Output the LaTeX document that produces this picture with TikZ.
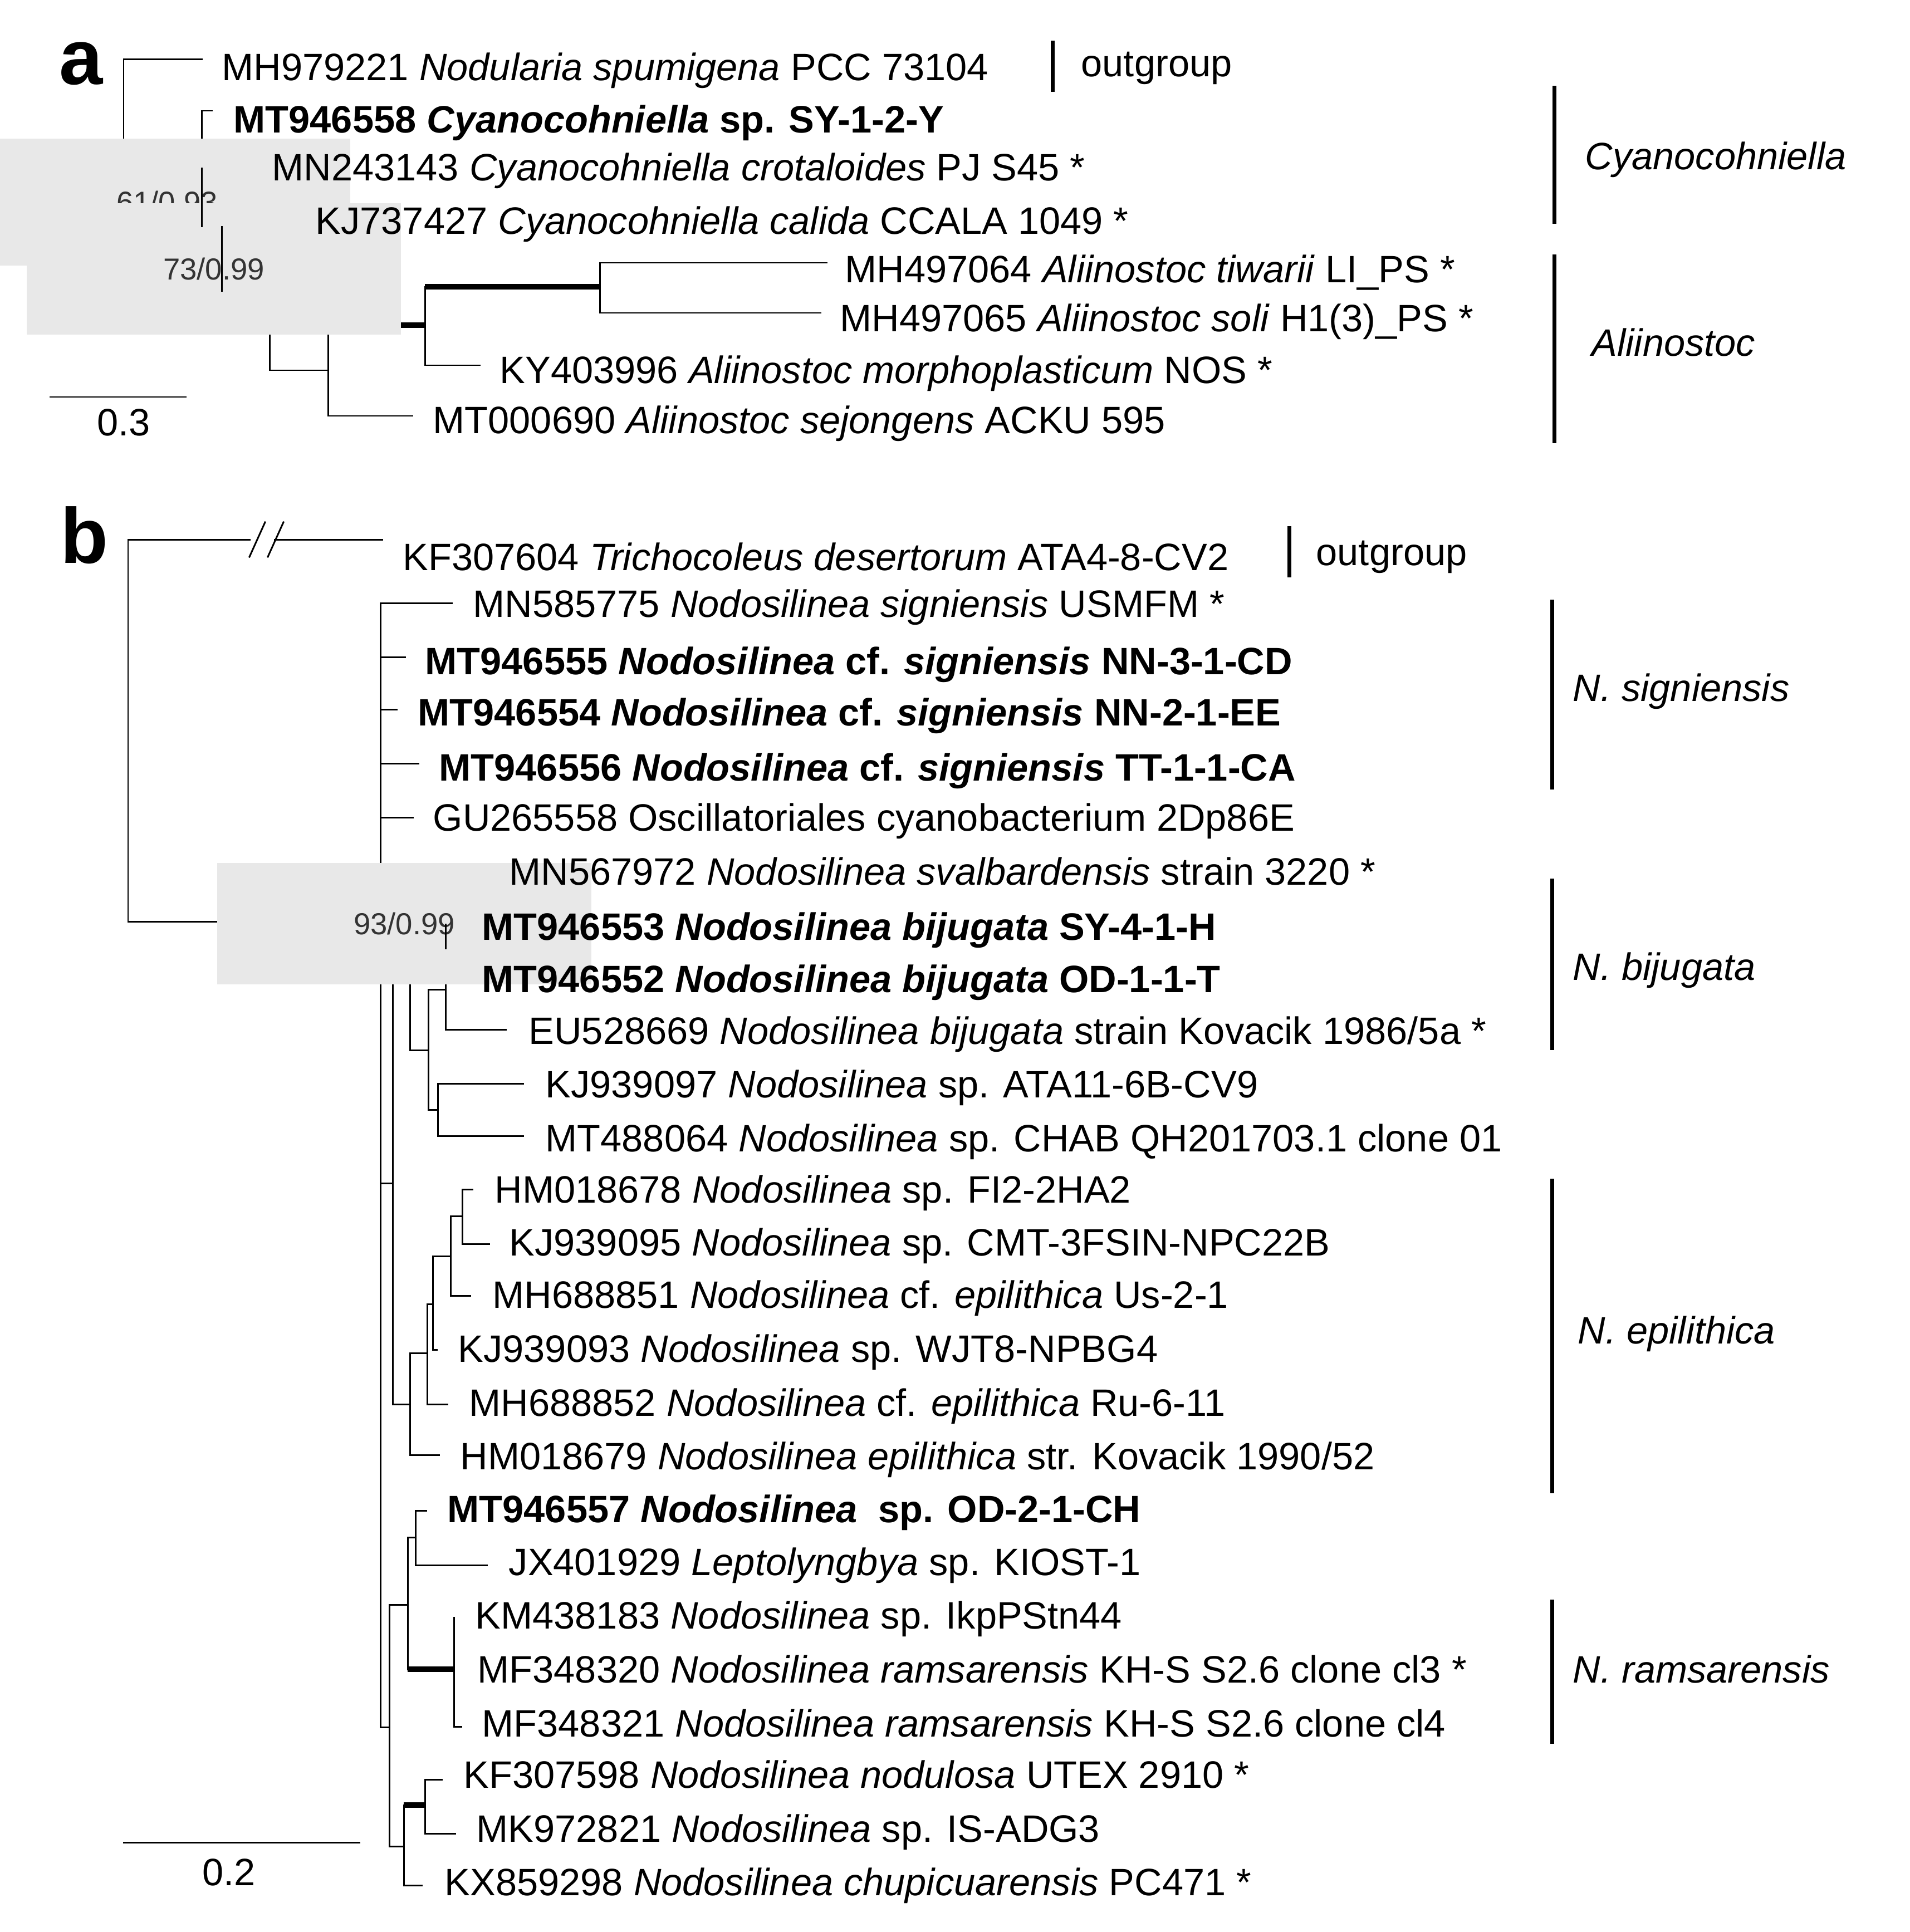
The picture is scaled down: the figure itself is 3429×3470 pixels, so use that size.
\documentclass[tikz,border=0pt]{standalone}
\usepackage{fontspec}
\setmainfont{Liberation Sans}
\begin{document}
\begin{tikzpicture}[x=0.01cm,y=-0.01cm,
  tr/.style={line width=0.85pt,line cap=rect},
  tk/.style={line width=2.6pt},
  bar/.style={line width=2pt},
  lab/.style={font=\fontsize{19.5}{20}\selectfont,inner sep=0pt,anchor=base west},
  sup/.style={font=\fontsize{15.5}{16}\selectfont,text=black!80,fill=black!9,inner sep=0pt,anchor=center},
  pl/.style={font=\fontsize{40}{40}\selectfont\bfseries,inner sep=0pt}]
\useasboundingbox (0,0) rectangle (3429,3470);
\newcommand\lf[3]{\node[lab] at ({#1},{#2+24}) {#3};}
% ---------- panel a
\node[pl] (pa) at (146,114) {a};
\draw[tr] (362,107) -- (222,107) -- (222,302) -- (362,302);
\draw[tr] (362,199) -- (362,407);
\draw[tr] (362,199) -- (380,199);
\draw[tk] (362,407) -- (398,407);
\draw[tr] (398,289) -- (398,523); \draw[tr] (398,289) -- (451,289);
\draw[tk] (398,523) -- (484,523);
\draw[tr] (484,382) -- (484,665); \draw[tr] (484,382) -- (533,382);
\draw[tr] (484,665) -- (589,665);
\draw[tr] (589,584) -- (589,747); \draw[tr] (589,747) -- (740,747);
\draw[tk] (589,584) -- (763,584);
\draw[tr] (763,515) -- (763,656); \draw[tr] (763,656) -- (861,656);
\draw[tk] (763,515) -- (1077,515);
\draw[tr] (1484,472) -- (1077,472) -- (1077,562) -- (1473,562);
\node[sup,minimum width=187,minimum height=65] at (300,363) {61/0.93};
\node[sup,minimum width=191,minimum height=67] at (384,483) {73/0.99};
\draw[tr] (362,302) -- (362,407);
\draw[tr] (398,407) -- (398,523);
\lf{398}{121}{MH979221 \textit{Nodularia spumigena} PCC 73104}
\lf{419}{215}{\bfseries MT946558 \textit{Cyanocohniella} sp. SY-1-2-Y}
\lf{488}{301}{MN243143 \textit{Cyanocohniella crotaloides} PJ S45 *}
\lf{566}{396}{KJ737427 \textit{Cyanocohniella calida} CCALA 1049 *}
\lf{1517}{484}{MH497064 \textit{Aliinostoc tiwarii} LI\_PS *}
\lf{1508}{571}{MH497065 \textit{Aliinostoc soli} H1(3)\_PS *}
\lf{897}{664}{KY403996 \textit{Aliinostoc morphoplasticum} NOS *}
\lf{777}{754}{MT000690 \textit{Aliinostoc sejongens} ACKU 595}
\draw[tr] (90,713) -- (334,713);
\node[lab,anchor=center] at (222,759) {0.3};
\draw[bar] (1890,73) -- (1890,165);
\lf{1941}{114}{outgroup}
\draw[bar] (2791,154) -- (2791,402);
\lf{2846}{281}{\itshape Cyanocohniella}
\draw[bar] (2791,457) -- (2791,796);
\lf{2858}{615}{\itshape Aliinostoc}
% ---------- panel b
\node[pl] (pb) at (151,961) {b};
\draw[tr] (448,969) -- (230,969) -- (230,1655) -- (448,1655);
\draw[tr] (493,969) -- (686,969);
\draw[tr] (493,1655) -- (681,1655);
\foreach \yy in {969,1655}{
  \draw[tr] (448,\yy+31) -- (476,\yy-31);
  \draw[tr] (481,\yy+31) -- (509,\yy-31);}
\lf{723}{1000}{KF307604 \textit{Trichocoleus desertorum} ATA4-8-CV2}
\draw[bar] (2315,945) -- (2315,1037);
\lf{2363}{991}{outgroup}
% main polytomy
\draw[tr] (683,1083) -- (683,3102);
\draw[tr] (683,1083) -- (811,1083);
\draw[tr] (683,1180) -- (727,1180);
\draw[tr] (683,1274) -- (712,1274);
\draw[tr] (683,1371) -- (751,1371);
\draw[tr] (683,1468) -- (741,1468);
% 705 node
\draw[tr] (683,2125) -- (705,2125);
\draw[tr] (705,1723) -- (705,2522);
\draw[tr] (705,1723) -- (736,1723);
\draw[tr] (736,1561) -- (736,1886); \draw[tr] (736,1561) -- (874,1561);
\draw[tr] (736,1886) -- (769,1886);
\draw[tr] (769,1777) -- (769,1993);
\draw[tr] (769,1777) -- (800,1777);
\draw[tr] (800,1703) -- (800,1849); \draw[tr] (800,1849) -- (908,1849);
\draw[tk] (800,1703) -- (823,1703);
\draw[tr] (825,1660) -- (825,1755);
\draw[tr] (825,1660) -- (830,1660); \draw[tr] (825,1755) -- (830,1755);
\draw[tr] (769,1993) -- (786,1993);
\draw[tr] (939,1946) -- (786,1946) -- (786,2040) -- (939,2040);
\draw[tr] (705,2522) -- (736,2522);
\draw[tr] (736,2430) -- (736,2613); \draw[tr] (736,2613) -- (788,2613);
\draw[tr] (736,2430) -- (767,2430);
\draw[tr] (767,2342) -- (767,2522); \draw[tr] (767,2522) -- (803,2522);
\draw[tr] (767,2342) -- (777,2342);
\draw[tr] (777,2256) -- (777,2424); \draw[tr] (777,2424) -- (784,2424);
\draw[tr] (777,2256) -- (809,2256);
\draw[tr] (809,2184) -- (809,2327); \draw[tr] (809,2327) -- (844,2327);
\draw[tr] (809,2184) -- (830,2184);
\draw[tr] (848,2136) -- (830,2136) -- (830,2234) -- (878,2234);
% lower clades
\draw[tr] (683,3102) -- (699,3102);
\draw[tr] (699,2882) -- (699,3316);
\draw[tr] (699,2882) -- (732,2882);
\draw[tr] (732,2761) -- (732,2998);
\draw[tr] (732,2761) -- (746,2761);
\draw[tr] (765,2713) -- (746,2713) -- (746,2811) -- (874,2811);
\draw[tk] (732,2998) -- (815,2998);
\draw[tr] (815,2905) -- (815,3101) -- (828,3101);
\draw[tr] (699,3316) -- (725,3316);
\draw[tr] (725,3242) -- (725,3386) -- (757,3386);
\draw[tk] (725,3242) -- (763,3242);
\draw[tr] (793,3196) -- (763,3196) -- (763,3293) -- (817,3293);
\node[sup,minimum width=191,minimum height=62] at (726,1659) {93/0.99};
\draw[tr] (800,1660) -- (800,1703);
% labels b
\lf{849}{1084}{MN585775 \textit{Nodosilinea signiensis} USMFM *}
\lf{763}{1187}{\bfseries MT946555 \textit{Nodosilinea} cf. \textit{signiensis} NN-3-1-CD}
\lf{750}{1279}{\bfseries MT946554 \textit{Nodosilinea} cf. \textit{signiensis} NN-2-1-EE}
\lf{788}{1378}{\bfseries MT946556 \textit{Nodosilinea} cf. \textit{signiensis} TT-1-1-CA}
\lf{777}{1468}{GU265558 Oscillatoriales cyanobacterium 2Dp86E}
\lf{914}{1565}{MN567972 \textit{Nodosilinea svalbardensis} strain 3220 *}
\lf{865}{1664}{\bfseries MT946553 \textit{Nodosilinea bijugata} SY-4-1-H}
\lf{865}{1758}{\bfseries MT946552 \textit{Nodosilinea bijugata} OD-1-1-T}
\lf{949}{1851}{EU528669 \textit{Nodosilinea bijugata} strain Kovacik 1986/5a *}
\lf{979}{1947}{KJ939097 \textit{Nodosilinea} sp. ATA11-6B-CV9}
\lf{979}{2044}{MT488064 \textit{Nodosilinea} sp. CHAB QH201703.1 clone 01}
\lf{888}{2136}{HM018678 \textit{Nodosilinea} sp. FI2-2HA2}
\lf{914}{2231}{KJ939095 \textit{Nodosilinea} sp. CMT-3FSIN-NPC22B}
\lf{884}{2325}{MH688851 \textit{Nodosilinea} cf. \textit{epilithica} Us-2-1}
\lf{822}{2422}{KJ939093 \textit{Nodosilinea} sp. WJT8-NPBG4}
\lf{842}{2519}{MH688852 \textit{Nodosilinea} cf. \textit{epilithica} Ru-6-11}
\lf{826}{2615}{HM018679 \textit{Nodosilinea epilithica} str. Kovacik 1990/52}
\lf{803}{2710}{\bfseries MT946557 \textit{Nodosilinea}\ \ sp. OD-2-1-CH}
\lf{913}{2805}{JX401929 \textit{Leptolyngbya} sp. KIOST-1}
\lf{853}{2901}{KM438183 \textit{Nodosilinea} sp. IkpPStn44}
\lf{857}{2998}{MF348320 \textit{Nodosilinea ramsarensis} KH-S S2.6 clone cl3 *}
\lf{865}{3095}{MF348321 \textit{Nodosilinea ramsarensis} KH-S S2.6 clone cl4}
\lf{832}{3187}{KF307598 \textit{Nodosilinea nodulosa} UTEX 2910 *}
\lf{855}{3284}{MK972821 \textit{Nodosilinea} sp. IS-ADG3}
\lf{798}{3380}{KX859298 \textit{Nodosilinea chupicuarensis} PC471 *}
\draw[tr] (222,3309) -- (645,3309);
\node[lab,anchor=center] at (411,3363) {0.2};
\draw[bar] (2787,1077) -- (2787,1418);
\lf{2824}{1235}{\itshape N. signiensis}
\draw[bar] (2787,1578) -- (2787,1886);
\lf{2824}{1736}{\itshape N. bijugata}
\draw[bar] (2787,2117) -- (2787,2682);
\lf{2833}{2389}{\itshape N. epilithica}
\draw[bar] (2787,2873) -- (2787,3132);
\lf{2824}{2998}{\itshape N. ramsarensis}
\end{tikzpicture}
\end{document}
